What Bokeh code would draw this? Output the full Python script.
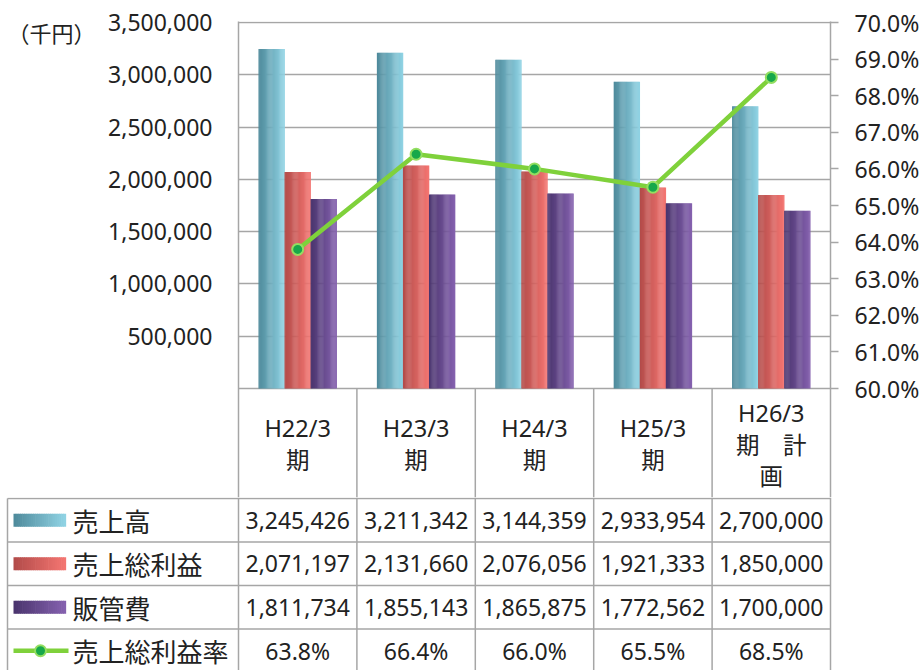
import numpy as np
from bokeh.plotting import figure
from bokeh.models import Range1d, LinearAxis, FixedTicker, NumeralTickFormatter, PrintfTickFormatter
from bokeh.core.properties import value
from bokeh.embed import file_html
from bokeh.resources import INLINE

# ---------------- data ----------------
categories = ["H22/3\n期", "H23/3\n期", "H24/3\n期", "H25/3\n期", "H26/3\n期　計\n画"]
series_names = ["売上高", "売上総利益", "販管費"]
sales = [3245426, 3211342, 3144359, 2933954, 2700000]
gross_profit = [2071197, 2131660, 2076056, 1921333, 1850000]
sga = [1811734, 1855143, 1865875, 1772562, 1700000]
margin_name = "売上総利益率"
gross_margin = [63.8, 66.4, 66.0, 65.5, 68.5]
left_ticks = [500000, 1000000, 1500000, 2000000, 2500000, 3000000, 3500000]
right_ticks = [60, 61, 62, 63, 64, 65, 66, 67, 68, 69, 70]
unit_label = "（千円）"

# ---------------- styles / layout ----------------
bar_grad = [("#4f8b9c", "#8fd2e3"), ("#b34c4a", "#f37571"), ("#4b356e", "#8461ae")]
line_color = "#7fd13b"
marker_fill = "#17a84a"
grid_color = "#a6a6a6"
text_color = "#222222"
LATIN = "Noto Sans"
CJK = "Noto Sans CJK JP"

W = 922
H = 670
FRAME_L, FRAME_R = 238, 830
PLOT_TOP, PLOT_BASE = 22, 388        # pixel rows of 3,500,000 / 0
TOP_H = 497                           # upper figure covers chart + header row
UNIT = (FRAME_R - FRAME_L) / 5.0
BAR_W = 0.22
NSTRIP = 24
YMAX = 3500000
PMIN, PMAX = 60, 70


def x_at(px):
    return -0.5 + (px - FRAME_L) / UNIT


def val_at(py):
    return (PLOT_BASE - py) * YMAX / (PLOT_BASE - PLOT_TOP)


def pct_at(py):
    return PMIN + (PLOT_BASE - py) * (PMAX - PMIN) / (PLOT_BASE - PLOT_TOP)


def mix(c0, c1, t):
    a = [int(c0[i:i + 2], 16) for i in (1, 3, 5)]
    b = [int(c1[i:i + 2], 16) for i in (1, 3, 5)]
    return "#" + "".join("%02x" % int(round(a[k] + (b[k] - a[k]) * t)) for k in range(3))


idx = np.arange(len(categories))
values = [sales, gross_profit, sga]

# ---------------- upper figure: chart + header row ----------------
p1 = figure(width=W, height=TOP_H, x_range=Range1d(-0.5, 4.5),
            y_range=Range1d(val_at(TOP_H), val_at(PLOT_TOP - 1)),
            output_backend="svg", toolbar_location=None, x_axis_location=None,
            min_border_left=FRAME_L, min_border_right=W - FRAME_R, min_border_top=PLOT_TOP - 1,
            min_border_bottom=0)
p1.extra_y_ranges = {"pct": Range1d(pct_at(TOP_H), pct_at(PLOT_TOP - 1)),
                     "px": Range1d(TOP_H, PLOT_TOP - 1)}
p1.background_fill_color = "white"
p1.border_fill_color = "white"
p1.outline_line_color = None
p1.xgrid.visible = False
p1.ygrid.ticker = FixedTicker(ticks=[0] + left_ticks)
p1.ygrid.grid_line_color = grid_color
p1.ygrid.grid_line_width = 1.5

ya = p1.yaxis[0]
ya.ticker = FixedTicker(ticks=left_ticks)
ya.formatter = NumeralTickFormatter(format="0,0")
ya.axis_line_color = grid_color
ya.axis_line_width = 1.5
ya.major_tick_out = 0
ya.major_tick_in = 0
ya.minor_tick_line_color = None
ya.major_label_standoff = 26
ya.major_label_text_font = LATIN
ya.major_label_text_font_size = "23px"
ya.major_label_text_color = text_color

unit_tick = int(round(val_at(32)))
ua = LinearAxis(ticker=FixedTicker(ticks=[unit_tick]), major_label_overrides={unit_tick: unit_label})
ua.axis_line_color = None
ua.major_tick_line_color = None
ua.major_tick_out = 0
ua.major_tick_in = 0
ua.minor_tick_line_color = None
ua.major_label_standoff = 10
ua.major_label_text_font = CJK
ua.major_label_text_font_size = "22px"
ua.major_label_text_color = text_color
p1.add_layout(ua, "left")

ra = LinearAxis(y_range_name="pct", ticker=FixedTicker(ticks=right_ticks),
                formatter=PrintfTickFormatter(format="%.1f%%"))
ra.axis_line_color = grid_color
ra.axis_line_width = 1.5
ra.major_tick_line_color = grid_color
ra.major_tick_line_width = 1.5
ra.major_tick_out = 8
ra.major_tick_in = 0
ra.minor_tick_line_color = None
ra.major_label_standoff = 16
ra.major_label_text_font = LATIN
ra.major_label_text_font_size = "23px"
ra.major_label_text_color = text_color
p1.add_layout(ra, "right")

# bars with a horizontal shading (thin strips)
offsets = [-BAR_W, 0.0, BAR_W]
for s in range(3):
    c0, c1 = bar_grad[s]
    xs, tops, cols = [], [], []
    for i in idx:
        for k in range(NSTRIP):
            xs.append(i + offsets[s] - BAR_W / 2 + (k + 0.5) * BAR_W / NSTRIP)
            tops.append(values[s][i])
            cols.append(mix(c0, c1, k / (NSTRIP - 1)))
    p1.vbar(x=xs, top=tops, bottom=0, width=BAR_W / NSTRIP * 1.3, fill_color=cols, line_color=None)

p1.line(x=idx, y=gross_margin, y_range_name="pct", line_color=line_color, line_width=4.5)
p1.scatter(x=idx, y=gross_margin, y_range_name="pct", size=11, fill_color=marker_fill,
           line_color="#93de60", line_width=2)

# header row of the data table
hx = [0.5, 1.5, 2.5, 3.5]
p1.segment(x0=hx, y0=[PLOT_BASE] * 4, x1=hx, y1=[TOP_H] * 4, y_range_name="px",
           line_color=grid_color, line_width=1.5)
lat_x, lat_y, lat_t, cjk_x, cjk_y, cjk_t = [], [], [], [], [], []
for i, cat in enumerate(categories):
    lines = cat.split("\n")
    n = len(lines)
    for j, ln in enumerate(lines):
        yy = 443 + (j - (n - 1) / 2.0) * 31
        if ln.isascii():
            lat_x.append(i); lat_y.append(yy); lat_t.append(ln)
        else:
            cjk_x.append(i); cjk_y.append(yy); cjk_t.append(ln)
p1.text(x=lat_x, y=lat_y, text=lat_t, y_range_name="px", text_font=value(LATIN),
        text_font_size="23.5px", text_color=text_color, text_align="center", text_baseline="middle")
p1.text(x=cjk_x, y=cjk_y, text=cjk_t, y_range_name="px", text_font=value(CJK),
        text_font_size="23.5px", text_color=text_color, text_align="center", text_baseline="middle")

# ---------------- lower figure: data rows ----------------
p2 = figure(width=W, height=H - TOP_H, x_range=Range1d(x_at(0), x_at(FRAME_R + 2)),
            y_range=Range1d(H, TOP_H),
            output_backend="svg", toolbar_location=None, x_axis_location=None, y_axis_location=None,
            min_border_left=0, min_border_right=W - FRAME_R - 2, min_border_top=0, min_border_bottom=0)
p2.background_fill_color = "white"
p2.border_fill_color = "white"
p2.outline_line_color = None
p2.xgrid.visible = False
p2.ygrid.visible = False

ROW_TOP = 498
ROW_H = 43.5
row_lines = [ROW_TOP + ROW_H * i for i in range(4)]
row_centers = [ROW_TOP + ROW_H * (i + 0.5) for i in range(4)]
LEFT_EDGE = x_at(7)

p2.segment(x0=[LEFT_EDGE] * 4, y0=row_lines, x1=[4.5] * 4, y1=row_lines,
           line_color=grid_color, line_width=1.5)
vx = [-0.5 + i for i in range(6)]
p2.segment(x0=vx, y0=[TOP_H] * 6, x1=vx, y1=[H] * 6, line_color=grid_color, line_width=1.5)
p2.segment(x0=[LEFT_EDGE], y0=[ROW_TOP], x1=[LEFT_EDGE], y1=[H], line_color=grid_color,
           line_width=1.5)

for r in range(3):
    p2.text(x=idx, y=[row_centers[r]] * len(idx), text=["{:,}".format(v) for v in values[r]],
            text_font=value(LATIN), text_font_size="23px", text_color=text_color,
            text_align="center", text_baseline="middle")
p2.text(x=idx, y=[row_centers[3]] * len(idx), text=["{:.1f}%".format(v) for v in gross_margin],
        text_font=value(LATIN), text_font_size="23px", text_color=text_color,
        text_align="center", text_baseline="middle")

# legend keys
sw_l, sw_r = x_at(13), x_at(65)
for s in range(3):
    c0, c1 = bar_grad[s]
    edges = np.linspace(sw_l, sw_r, NSTRIP + 1)
    cols = [mix(c0, c1, k / (NSTRIP - 1)) for k in range(NSTRIP)]
    p2.quad(left=edges[:-1], right=edges[1:] + (edges[1] - edges[0]) * 0.3,
            top=[row_centers[s] - 6.5] * NSTRIP, bottom=[row_centers[s] + 6.5] * NSTRIP,
            fill_color=cols, line_color=None)
p2.segment(x0=[x_at(13)], y0=[row_centers[3]], x1=[x_at(68)], y1=[row_centers[3]],
           line_color=line_color, line_width=4.5)
p2.scatter(x=[x_at(40)], y=[row_centers[3]], size=11, fill_color=marker_fill,
           line_color="#93de60", line_width=2)
p2.text(x=[x_at(72)] * 4, y=row_centers, text=series_names + [margin_name],
        text_font=value(CJK), text_font_size="26px", text_color=text_color,
        text_align="left", text_baseline="middle")

open("out.html", "w").write(file_html([p1, p2], INLINE))
